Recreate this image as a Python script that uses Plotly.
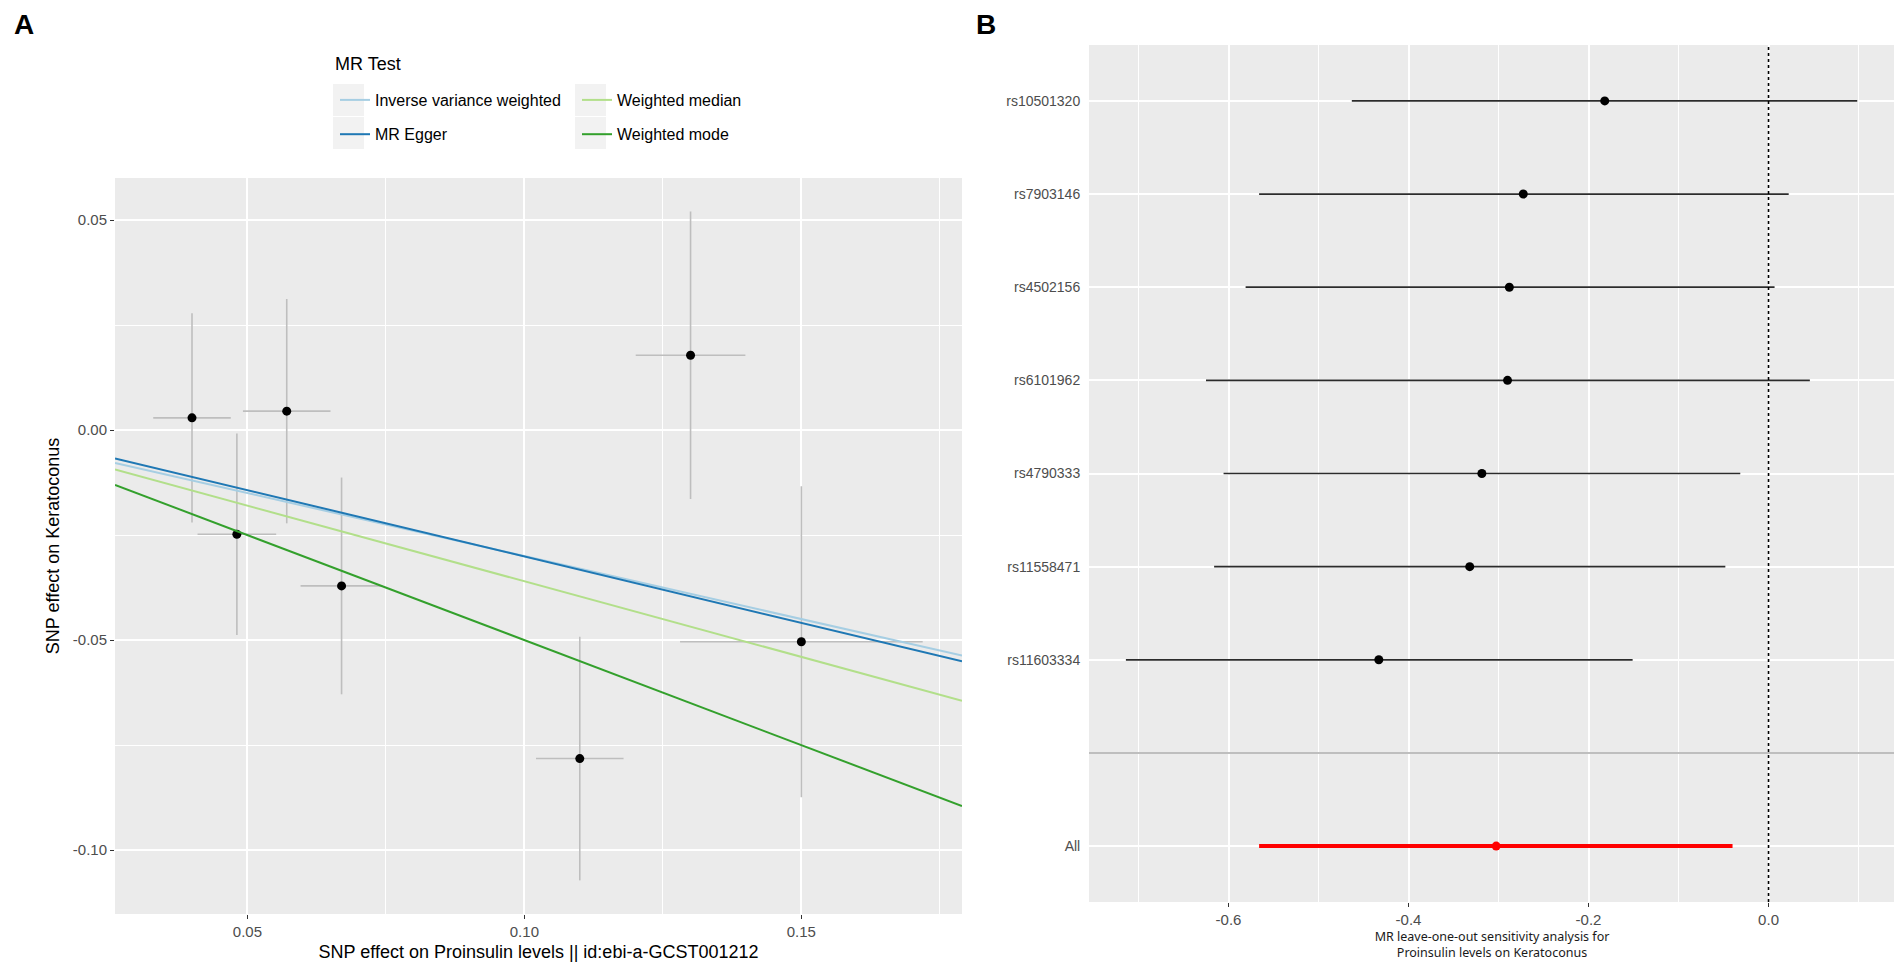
import plotly.graph_objects as go

# page is 1902x971, but the html body adds an 8px margin around the plot div
OFF = 8
W, H = 1902 - OFF, 971 - OFF

# ---- panel A: per-SNP effects on exposure (x) and outcome (y) ----
exposure_beta = [0.0400, 0.0481, 0.0571, 0.0670, 0.1100, 0.1300, 0.1500]
exposure_se = [0.0070, 0.0071, 0.0079, 0.0074, 0.0079, 0.0099, 0.0219]
outcome_beta = [0.0029, -0.0248, 0.0045, -0.0371, -0.0782, 0.0178, -0.0504]
outcome_se = [0.0249, 0.0240, 0.0267, 0.0258, 0.0290, 0.0342, 0.0370]

method_names = ["Inverse variance weighted", "MR Egger", "Weighted median", "Weighted mode"]
method_intercepts = [0.0, 0.0015, 0.0, 0.0]
method_slopes = [-0.300, -0.316, -0.360, -0.500]
method_colours = ["#A6CEE3", "#1F78B4", "#B2DF8A", "#33A02C"]
method_legends = ["legend", "legend", "legend2", "legend2"]

# ---- panel B: leave-one-out ----
snp_names = ["rs10501320", "rs7903146", "rs4502156", "rs6101962",
             "rs4790333", "rs11558471", "rs11603334"]
snp_b = [-0.182, -0.2725, -0.288, -0.290, -0.3185, -0.332, -0.433]
snp_lo = [-0.463, -0.566, -0.581, -0.625, -0.6055, -0.616, -0.714]
snp_up = [0.0986, 0.0224, 0.0067, 0.0459, -0.0314, -0.048, -0.151]
all_label = "All"
all_b = -0.3026
all_lo = -0.566
all_up = -0.040

ticks_a_x = [0.05, 0.10, 0.15]
ticks_a_x_text = ["0.05", "0.10", "0.15"]
ticks_a_y = [-0.10, -0.05, 0.00, 0.05]
ticks_a_y_text = ["-0.10", "-0.05", "0.00", "0.05"]
ticks_b_x = [-0.6, -0.4, -0.2, 0.0]
ticks_b_x_text = ["-0.6", "-0.4", "-0.2", "0.0"]

FONT = "Liberation Sans, Arial, sans-serif"
x_range_a = [0.0261, 0.179]


# page pixel -> paper fraction
def fx(p):
    return (p - OFF) / W


def fy(p):
    return 1 - (p - OFF) / H


fig = go.Figure()

# scatter points with grey error bars
fig.add_trace(go.Scatter(
    x=exposure_beta, y=outcome_beta, mode="markers",
    marker=dict(color="black", size=9),
    error_x=dict(type="data", array=exposure_se, color="#BEBEBE", thickness=1.6, width=0),
    error_y=dict(type="data", array=outcome_se, color="#BEBEBE", thickness=1.6, width=0),
    showlegend=False, xaxis="x", yaxis="y"
))

# MR method lines across the panel
for name, a, b, col, lg in zip(method_names, method_intercepts, method_slopes,
                               method_colours, method_legends):
    fig.add_trace(go.Scatter(
        x=x_range_a, y=[a + b * x for x in x_range_a], mode="lines",
        line=dict(color=col, width=2), name=name, legend=lg,
        legendgroup=name, xaxis="x", yaxis="y"
    ))

# leave-one-out forest
y_order = [all_label, " "] + snp_names[::-1]
fig.add_trace(go.Scatter(
    x=snp_b, y=snp_names, mode="markers",
    marker=dict(color="black", size=9),
    error_x=dict(type="data", symmetric=False,
                 array=[u - b for u, b in zip(snp_up, snp_b)],
                 arrayminus=[b - l for l, b in zip(snp_lo, snp_b)],
                 color="#2b2b2b", thickness=1.7, width=0),
    showlegend=False, xaxis="x2", yaxis="y2"
))
fig.add_trace(go.Scatter(
    x=[all_b], y=[all_label], mode="markers",
    marker=dict(color="#FF0000", size=9),
    error_x=dict(type="data", symmetric=False, array=[all_up - all_b],
                 arrayminus=[all_b - all_lo], color="#FF0000", thickness=4, width=0),
    showlegend=False, xaxis="x2", yaxis="y2"
))

shapes = [
    # separator between single SNPs and the overall estimate
    dict(type="line", xref="x2 domain", x0=0, x1=1, yref="y2", y0=1, y1=1,
         line=dict(color="#BEBEBE", width=2), layer="above"),
    # null effect
    dict(type="line", xref="x2", x0=0, x1=0, yref="y2 domain", y0=0, y1=1,
         line=dict(color="black", width=1.6, dash="dot"), layer="above"),
]

# grey legend key backgrounds (ggplot style)
for kx in (333, 575):
    for ky in (84, 117):
        shapes.append(dict(type="rect", xref="paper", yref="paper",
                           x0=fx(kx), x1=fx(kx + 31), y0=fy(ky + 32), y1=fy(ky),
                           fillcolor="#F2F2F2", line=dict(width=0), layer="below"))

tick_font = dict(family=FONT, size=15, color="#4D4D4D")
common_axis = dict(showgrid=True, gridcolor="white", gridwidth=2, zeroline=False,
                   showline=False, automargin=False, ticks="outside", ticklen=4,
                   tickcolor="#333333", tickwidth=1.2, tickfont=tick_font)

fig.update_layout(
    width=W, height=H,
    margin=dict(l=0, r=0, t=0, b=0),
    paper_bgcolor="white",
    plot_bgcolor="#EBEBEB",
    font=dict(family=FONT, color="black"),
    shapes=shapes,
    xaxis=dict(
        common_axis, domain=[fx(115), fx(962)], anchor="y", range=x_range_a,
        tickmode="array", tickvals=ticks_a_x, ticktext=ticks_a_x_text,
        minor=dict(tickvals=[0.075, 0.125, 0.175], showgrid=True,
                   gridcolor="white", gridwidth=1, ticks=""),
        title=dict(text="SNP effect on Proinsulin levels || id:ebi-a-GCST001212",
                   font=dict(size=18), standoff=6),
    ),
    yaxis=dict(
        common_axis, domain=[fy(914), fy(178)], anchor="x", range=[-0.1152, 0.06],
        tickmode="array", tickvals=ticks_a_y, ticktext=ticks_a_y_text,
        minor=dict(tickvals=[-0.075, -0.025, 0.025], showgrid=True,
                   gridcolor="white", gridwidth=1, ticks=""),
        title=dict(text="SNP effect on Keratoconus", font=dict(size=18), standoff=8),
    ),
    xaxis2=dict(
        common_axis, domain=[fx(1089), fx(1895)], anchor="y2", range=[-0.755, 0.1405],
        tickmode="array", tickvals=ticks_b_x, ticktext=ticks_b_x_text,
        minor=dict(tickvals=[-0.7, -0.5, -0.3, -0.1, 0.1], showgrid=True,
                   gridcolor="white", gridwidth=1, ticks=""),
        title=dict(text="MR leave-one-out sensitivity analysis for<br>Proinsulin levels on Keratoconus",
                   font=dict(family="Noto Sans, sans-serif", size=12.5, color="#1a1a1a"),
                   standoff=4),
    ),
    yaxis2=dict(
        common_axis, domain=[fy(902), fy(45)], anchor="x2", type="category",
        categoryorder="array", categoryarray=y_order, range=[-0.6, len(y_order) - 0.4],
        ticklen=5, tickcolor="rgba(0,0,0,0)",
        tickfont=dict(family=FONT, size=14, color="#4D4D4D"),
    ),
    legend=dict(
        x=fx(335), y=fy(83), xanchor="left", yanchor="top",
        bgcolor="rgba(0,0,0,0)", font=dict(size=16, color="black"),
        tracegroupgap=10.5, itemwidth=30,
    ),
    legend2=dict(
        x=fx(577), y=fy(83), xanchor="left", yanchor="top",
        bgcolor="rgba(0,0,0,0)", font=dict(size=16, color="black"),
        tracegroupgap=10.5, itemwidth=30,
    ),
    annotations=[
        dict(text="MR Test", x=fx(333), y=fy(64), xref="paper", yref="paper",
             showarrow=False, font=dict(size=18, color="black"),
             xanchor="left", yanchor="middle"),
        dict(text="<b>A</b>", x=fx(24), y=1, xref="paper", yref="paper",
             showarrow=False, font=dict(size=28, color="black"), borderpad=0,
             xanchor="center", yanchor="top"),
        dict(text="<b>B</b>", x=fx(986), y=1, xref="paper", yref="paper",
             showarrow=False, font=dict(size=28, color="black"), borderpad=0,
             xanchor="center", yanchor="top"),
    ],
)

fig.write_html("out.html")
